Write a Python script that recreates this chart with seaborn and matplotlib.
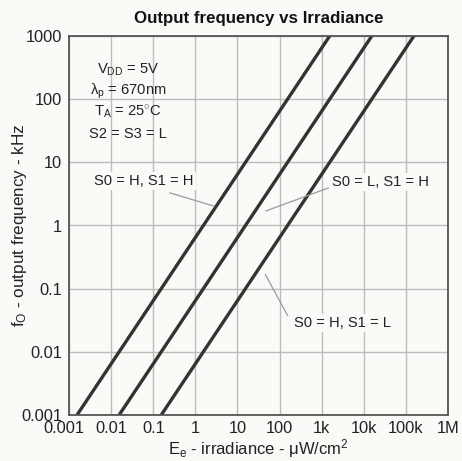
import matplotlib
matplotlib.use("Agg")
import matplotlib.pyplot as plt
import matplotlib.transforms as mtransforms
import seaborn as sns
import pandas as pd

# ---- data ----
modes = ["S0 = H, S1 = H", "S0 = L, S1 = H", "S0 = H, S1 = L"]
irradiance_hh = [0.00155, 1550]
irradiance_lh = [0.0155, 15500]
irradiance_hl = [0.155, 155000]
frequency = [0.001, 1000]

x_ticks = [1e-3, 1e-2, 1e-1, 1, 10, 100, 1e3, 1e4, 1e5, 1e6]
x_tick_labels = ["0.001", "0.01", "0.1", "1", "10", "100", "1k", "10k", "100k", "1M"]
y_ticks = [1e-3, 1e-2, 1e-1, 1, 10, 100, 1000]
y_tick_labels = ["0.001", "0.01", "0.1", "1", "10", "100", "1000"]

conditions = [r"V$_\mathrm{DD}$ = 5V", r"λ$_\mathrm{p}$ = 670nm",
              r"T$_\mathrm{A}$ = 25$^{\circ}$C", "S2 = S3 = L"]

df = pd.DataFrame({
    "irradiance": irradiance_hh + irradiance_lh + irradiance_hl,
    "frequency": frequency * 3,
    "mode": [modes[0]] * 2 + [modes[1]] * 2 + [modes[2]] * 2,
})

sns.set_style("white")
plt.rcParams["font.family"] = ["Liberation Sans", "DejaVu Sans"]
plt.rcParams["mathtext.fontset"] = "custom"
plt.rcParams["mathtext.rm"] = "Liberation Sans"
plt.rcParams["mathtext.it"] = "Liberation Sans:italic"
plt.rcParams["mathtext.bf"] = "Liberation Sans:bold"

bg = "#fafaf6"
W, H = 462, 461
fig = plt.figure(figsize=(W / 100, H / 100), dpi=100, facecolor=bg)
L, R, T, B = 69, 448, 36, 415
ax = fig.add_axes([L / W, 1 - B / H, (R - L) / W, (B - T) / H])
ax.set_facecolor(bg)

sns.lineplot(data=df, x="irradiance", y="frequency", units="mode",
             estimator=None, color="#333333", lw=2.4, ax=ax, legend=False)

ax.set_xscale("log")
ax.set_yscale("log")
ax.set_xlim(1e-3, 1e6)
ax.set_ylim(1e-3, 1e3)
ax.set_xticks(x_ticks)
ax.set_xticklabels(x_tick_labels)
ax.set_yticks(y_ticks)
ax.set_yticklabels(y_tick_labels)
ax.minorticks_off()
ax.tick_params(axis="both", length=0, labelsize=11.8, colors="#222222")
ax.tick_params(axis="x", pad=4.5)
ax.tick_params(axis="y", pad=5)
ax.grid(True, which="major", color="#bcbcbc", lw=1.0)
for s in ax.spines.values():
    s.set_color("#555555")
    s.set_linewidth(1.3)

# nudge the first x tick label left, as in the reference
first = ax.get_xticklabels()[0]
first.set_transform(first.get_transform() +
                    mtransforms.ScaledTranslation(-5 / 100, 0, fig.dpi_scale_trans))

ax.set_xlabel(r"E$_\mathrm{e}$ - irradiance - μW/cm$^2$", fontsize=12, color="#222222")
ax.set_ylabel(r"f$_\mathrm{O}$ - output frequency - kHz", fontsize=12.3, color="#222222")
ax.xaxis.set_label_coords(0.5, -0.058)
ax.yaxis.set_label_coords(-0.105, 0.5)

fig.text((L + R) / 2 / W, 1 - 18 / H, "Output frequency vs Irradiance",
         ha="center", va="center", fontsize=12.2, fontweight="bold", color="#111111")

for t, yp in zip(conditions, [70, 91, 112, 134]):
    ax.text((128 - L) / (R - L), (B - yp) / (B - T), t, transform=ax.transAxes, ha="center",
            va="center", fontsize=10.6, color="#222222")

def frac(px, py):
    return ((px - L) / (R - L), (B - py) / (B - T))

label_pos = [(144, 181), (381, 182), (343, 323)]
leaders = [((167, 192), (217, 207)), ((331, 187), (263, 212)), ((289, 318), (264, 272))]
for m, (tx, ty), (p0, p1) in zip(modes, label_pos, leaders):
    ax.text(*frac(tx, ty), m, transform=ax.transAxes, ha="center", va="center",
            fontsize=10.6, color="#222222",
            bbox=dict(facecolor=bg, edgecolor="none", pad=1.5))
    ax.annotate("", xy=frac(*p1), xycoords="axes fraction",
                xytext=frac(*p0), textcoords="axes fraction",
                arrowprops=dict(arrowstyle="-", color="#9a9a9a", lw=0.9))

fig.savefig("out.png", dpi=100, facecolor=bg)
